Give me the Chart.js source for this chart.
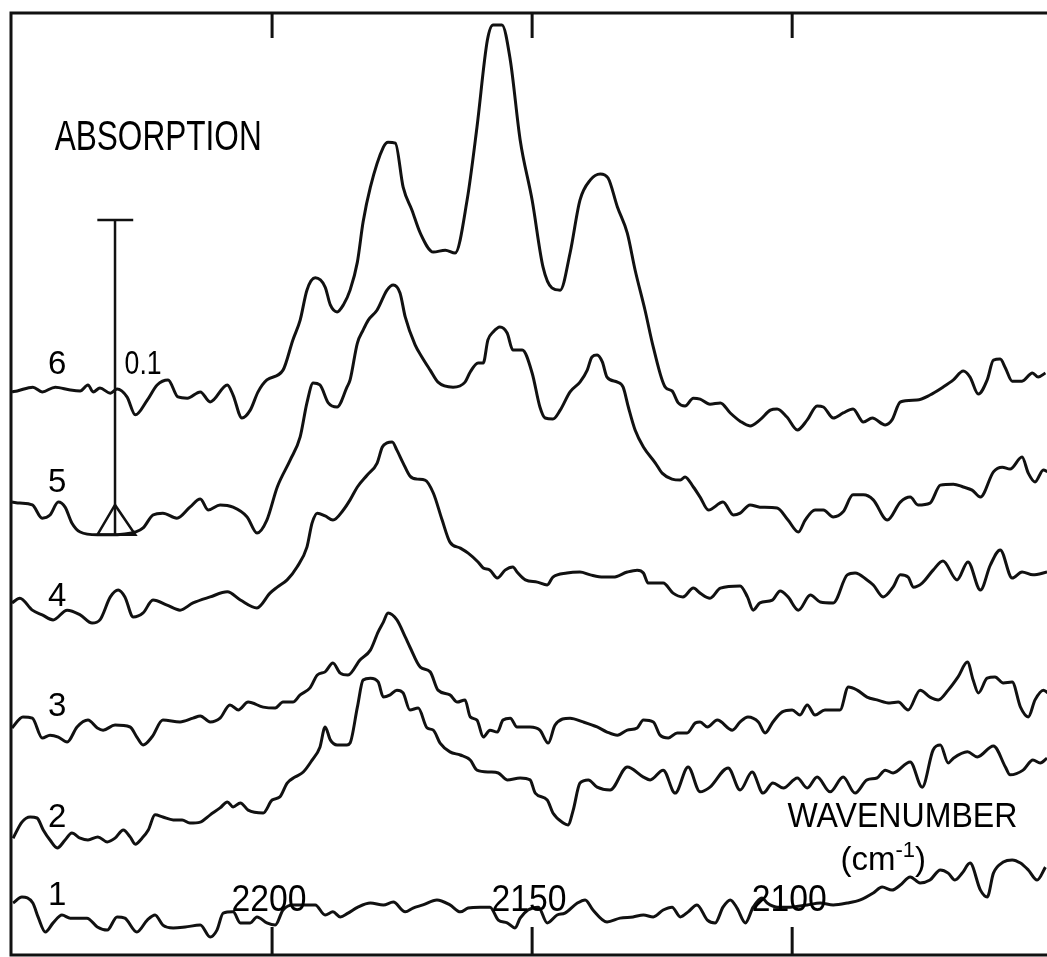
<!DOCTYPE html>
<html>
<head>
<meta charset="utf-8">
<script src="https://cdn.jsdelivr.net/npm/chart.js@4.4.1/dist/chart.umd.min.js"></script>
<style>
  html, body { margin: 0; padding: 0; background: #fff; overflow: hidden; }
  #wrap { width: 1047px; height: 957px; }
</style>
</head>
<body>
<div id="wrap"><canvas id="chart" width="1047" height="957"></canvas></div>
<script>
// [wavenumber cm-1, absorbance], one list per spectrum (1 = bottom)
const spec1 = [[2249.8,0.0165],[2248.1,0.0184],[2246.0,0.0165],[2245.0,0.0121],[2243.6,0.0073],[2242.1,0.0102],[2240.4,0.0127],[2238.8,0.0117],[2235.6,0.0117],[2233.6,0.0089],[2231.7,0.0079],[2229.8,0.0121],[2228.3,0.0117],[2226.0,0.0073],[2224.0,0.0111],[2222.5,0.0127],[2221.0,0.0095],[2219.0,0.0086],[2216.7,0.0089],[2213.8,0.0095],[2211.9,0.0057],[2210.6,0.0079],[2209.4,0.0133],[2207.5,0.0137],[2206.1,0.0102],[2204.2,0.0102],[2202.9,0.0121],[2201.0,0.0102],[2199.4,0.0095],[2197.9,0.0143],[2196.0,0.0159],[2193.3,0.0159],[2191.7,0.0159],[2189.8,0.0127],[2188.3,0.0137],[2186.9,0.0121],[2185.4,0.0133],[2183.5,0.0152],[2181.1,0.0165],[2178.6,0.0159],[2176.7,0.0168],[2174.4,0.0137],[2172.9,0.0149],[2171.0,0.0159],[2168.3,0.0175],[2165.8,0.0159],[2163.8,0.0137],[2162.3,0.0149],[2160.0,0.0152],[2158.1,0.0152],[2156.5,0.0111],[2154.8,0.0102],[2153.3,0.0086],[2152.3,0.0117],[2150.8,0.0143],[2148.8,0.0152],[2147.1,0.0102],[2145.2,0.0127],[2143.7,0.0133],[2141.3,0.0165],[2139.8,0.0175],[2138.3,0.0143],[2135.6,0.0105],[2133.1,0.0117],[2130.6,0.0121],[2128.6,0.0127],[2126.7,0.0121],[2124.8,0.0143],[2123.1,0.0152],[2121.5,0.0121],[2120.0,0.0137],[2118.3,0.0159],[2116.3,0.0111],[2114.8,0.0102],[2113.3,0.0152],[2111.9,0.0175],[2110.6,0.0149],[2109.0,0.0102],[2107.5,0.0152],[2105.8,0.0181],[2104.8,0.0165],[2102.9,0.0152],[2100.4,0.0152],[2097.1,0.0159],[2094.6,0.0165],[2092.1,0.0159],[2089.4,0.0165],[2086.9,0.0175],[2084.4,0.0197],[2082.7,0.0216],[2080.8,0.0206],[2079.2,0.0222],[2077.3,0.0248],[2075.4,0.0229],[2073.5,0.0238],[2071.5,0.0270],[2070.0,0.0260],[2068.7,0.0238],[2067.3,0.0260],[2065.8,0.0292],[2063.8,0.0206],[2062.5,0.0184],[2061.3,0.0260],[2059.4,0.0295],[2057.7,0.0302],[2056.1,0.0292],[2054.6,0.0270],[2052.9,0.0238],[2051.3,0.0279]];

const spec2 = [[2249.8,0.0371],[2248.1,0.0422],[2246.5,0.0438],[2245.2,0.0435],[2244.0,0.0397],[2242.7,0.0365],[2241.3,0.0340],[2239.8,0.0365],[2238.5,0.0387],[2236.9,0.0371],[2235.4,0.0365],[2233.5,0.0375],[2231.7,0.0359],[2230.2,0.0371],[2228.6,0.0397],[2227.3,0.0375],[2226.3,0.0352],[2225.0,0.0371],[2223.8,0.0397],[2222.5,0.0445],[2221.0,0.0438],[2219.0,0.0429],[2217.3,0.0429],[2215.8,0.0419],[2213.8,0.0422],[2211.9,0.0445],[2210.0,0.0467],[2208.6,0.0486],[2207.5,0.0470],[2206.1,0.0483],[2204.6,0.0460],[2201.7,0.0451],[2200.0,0.0492],[2198.5,0.0502],[2197.1,0.0546],[2195.6,0.0565],[2194.0,0.0581],[2192.3,0.0619],[2190.8,0.0660],[2189.8,0.0724],[2188.8,0.0683],[2187.5,0.0667],[2185.6,0.0667],[2185.0,0.0673],[2183.6,0.0787],[2182.5,0.0873],[2181.1,0.0879],[2179.6,0.0867],[2178.6,0.0819],[2177.3,0.0826],[2176.0,0.0841],[2174.8,0.0832],[2173.5,0.0778],[2171.9,0.0784],[2170.2,0.0721],[2169.0,0.0714],[2167.7,0.0673],[2165.8,0.0645],[2163.8,0.0635],[2161.9,0.0619],[2160.6,0.0587],[2158.1,0.0581],[2156.5,0.0578],[2154.8,0.0556],[2152.3,0.0562],[2150.4,0.0556],[2149.4,0.0514],[2147.1,0.0492],[2146.0,0.0451],[2144.0,0.0419],[2143.1,0.0413],[2142.1,0.0460],[2140.8,0.0546],[2139.2,0.0556],[2137.5,0.0533],[2135.0,0.0524],[2131.7,0.0597],[2128.6,0.0565],[2127.3,0.0556],[2124.8,0.0587],[2122.5,0.0514],[2120.0,0.0597],[2117.7,0.0518],[2115.8,0.0533],[2112.3,0.0594],[2110.0,0.0524],[2107.7,0.0581],[2105.6,0.0514],[2103.7,0.0546],[2101.7,0.0530],[2099.0,0.0562],[2097.1,0.0530],[2095.2,0.0565],[2092.7,0.0518],[2090.2,0.0565],[2087.9,0.0514],[2085.6,0.0556],[2083.7,0.0562],[2082.1,0.0587],[2080.6,0.0578],[2077.3,0.0613],[2075.0,0.0533],[2072.9,0.0651],[2071.5,0.0667],[2070.0,0.0610],[2069.0,0.0625],[2066.3,0.0645],[2064.4,0.0629],[2061.3,0.0664],[2059.0,0.0597],[2058.1,0.0572],[2055.6,0.0587],[2053.7,0.0619],[2052.3,0.0610],[2051.0,0.0625]];

const spec3 = [[2250.0,0.0721],[2247.9,0.0756],[2246.1,0.0752],[2244.2,0.0689],[2242.7,0.0698],[2241.1,0.0692],[2239.4,0.0676],[2237.5,0.0724],[2235.4,0.0746],[2233.6,0.0721],[2232.5,0.0714],[2230.2,0.0730],[2227.3,0.0724],[2226.0,0.0692],[2224.8,0.0667],[2223.1,0.0692],[2221.0,0.0746],[2217.7,0.0740],[2215.2,0.0752],[2213.8,0.0759],[2211.9,0.0740],[2210.0,0.0752],[2208.1,0.0794],[2206.5,0.0778],[2204.6,0.0803],[2201.7,0.0787],[2199.4,0.0784],[2197.9,0.0803],[2196.0,0.0803],[2194.6,0.0826],[2192.7,0.0848],[2191.3,0.0889],[2189.8,0.0899],[2188.3,0.0927],[2186.9,0.0895],[2185.4,0.0889],[2183.1,0.0937],[2181.1,0.0968],[2179.6,0.1026],[2178.6,0.1057],[2177.7,0.1086],[2176.0,0.1064],[2174.4,0.1010],[2173.5,0.0978],[2171.5,0.0914],[2169.6,0.0899],[2168.1,0.0841],[2165.8,0.0826],[2164.4,0.0803],[2162.9,0.0810],[2161.9,0.0756],[2160.6,0.0746],[2159.4,0.0692],[2158.1,0.0714],[2156.7,0.0708],[2155.6,0.0746],[2154.2,0.0752],[2152.9,0.0724],[2150.4,0.0724],[2148.5,0.0714],[2146.9,0.0673],[2145.6,0.0730],[2142.7,0.0752],[2140.2,0.0740],[2137.5,0.0724],[2135.6,0.0708],[2133.6,0.0698],[2131.7,0.0714],[2129.8,0.0721],[2128.6,0.0746],[2126.7,0.0740],[2125.4,0.0698],[2123.8,0.0689],[2122.1,0.0705],[2120.2,0.0705],[2118.6,0.0737],[2117.7,0.0740],[2116.3,0.0724],[2114.4,0.0746],[2111.5,0.0714],[2110.0,0.0740],[2108.5,0.0756],[2106.5,0.0740],[2105.2,0.0705],[2103.7,0.0740],[2101.9,0.0772],[2100.0,0.0778],[2098.5,0.0762],[2097.1,0.0794],[2095.6,0.0762],[2093.7,0.0778],[2090.8,0.0778],[2089.2,0.0851],[2087.5,0.0841],[2085.6,0.0819],[2083.7,0.0810],[2081.2,0.0800],[2079.6,0.0803],[2077.7,0.0778],[2075.4,0.0841],[2073.5,0.0819],[2071.9,0.0810],[2070.0,0.0841],[2068.1,0.0883],[2066.3,0.0930],[2065.2,0.0873],[2064.2,0.0832],[2062.5,0.0879],[2061.0,0.0883],[2059.4,0.0864],[2057.7,0.0867],[2056.1,0.0787],[2054.6,0.0756],[2053.3,0.0810],[2051.7,0.0841],[2050.8,0.0832]];

const spec4 = [[2250.0,0.1118],[2248.5,0.1133],[2246.1,0.1095],[2244.2,0.1080],[2242.1,0.1064],[2239.4,0.1095],[2236.9,0.1080],[2234.6,0.1054],[2233.1,0.1064],[2231.1,0.1137],[2229.6,0.1159],[2228.3,0.1137],[2226.7,0.1073],[2224.8,0.1086],[2222.9,0.1127],[2220.2,0.1111],[2217.7,0.1095],[2215.2,0.1118],[2211.9,0.1137],[2208.6,0.1153],[2206.1,0.1127],[2202.9,0.1102],[2200.4,0.1149],[2199.0,0.1168],[2197.1,0.1191],[2195.2,0.1232],[2193.3,0.1295],[2192.3,0.1372],[2191.3,0.1403],[2189.8,0.1394],[2188.3,0.1381],[2186.3,0.1413],[2185.0,0.1445],[2183.6,0.1486],[2181.7,0.1524],[2179.8,0.1562],[2178.8,0.1613],[2177.9,0.1626],[2176.9,0.1629],[2176.0,0.1603],[2174.8,0.1562],[2173.5,0.1521],[2172.1,0.1511],[2170.6,0.1508],[2169.0,0.1467],[2167.3,0.1381],[2165.8,0.1311],[2163.8,0.1292],[2162.3,0.1276],[2160.4,0.1248],[2159.4,0.1229],[2158.1,0.1222],[2156.7,0.1197],[2155.2,0.1222],[2153.7,0.1232],[2152.9,0.1216],[2151.3,0.1191],[2149.0,0.1184],[2147.1,0.1175],[2146.0,0.1200],[2143.3,0.1213],[2140.8,0.1216],[2138.8,0.1207],[2136.3,0.1200],[2134.4,0.1200],[2131.7,0.1216],[2129.8,0.1222],[2128.6,0.1213],[2127.7,0.1181],[2124.8,0.1181],[2122.9,0.1149],[2121.0,0.1137],[2119.0,0.1165],[2117.7,0.1149],[2115.8,0.1133],[2113.8,0.1165],[2110.0,0.1172],[2108.6,0.1137],[2107.5,0.1095],[2106.2,0.1118],[2103.8,0.1127],[2102.3,0.1156],[2100.8,0.1137],[2098.8,0.1095],[2096.5,0.1143],[2094.6,0.1121],[2092.1,0.1118],[2089.4,0.1207],[2087.9,0.1213],[2085.6,0.1191],[2084.4,0.1175],[2082.5,0.1137],[2080.6,0.1168],[2079.2,0.1207],[2077.7,0.1200],[2076.7,0.1168],[2075.0,0.1181],[2072.9,0.1222],[2071.0,0.1251],[2068.3,0.1191],[2066.2,0.1248],[2063.8,0.1159],[2061.9,0.1238],[2060.0,0.1286],[2057.7,0.1197],[2055.8,0.1216],[2053.7,0.1207],[2051.0,0.1216]];

const spec5 = [[2250.0,0.1438],[2248.5,0.1435],[2246.1,0.1429],[2244.2,0.1387],[2242.7,0.1397],[2241.1,0.1438],[2239.8,0.1422],[2238.5,0.1372],[2236.9,0.1343],[2233.6,0.1334],[2231.1,0.1334],[2228.3,0.1337],[2226.3,0.1343],[2224.8,0.1356],[2222.9,0.1397],[2221.0,0.1403],[2218.3,0.1387],[2215.8,0.1422],[2213.8,0.1448],[2212.3,0.1413],[2210.0,0.1429],[2207.5,0.1422],[2204.8,0.1391],[2202.9,0.1340],[2201.0,0.1381],[2199.0,0.1486],[2196.5,0.1572],[2194.6,0.1645],[2193.3,0.1753],[2192.1,0.1816],[2190.8,0.1810],[2189.2,0.1753],[2187.5,0.1740],[2185.6,0.1803],[2185.0,0.1826],[2183.6,0.1943],[2182.5,0.1984],[2181.5,0.2016],[2179.8,0.2048],[2177.9,0.2111],[2176.7,0.2127],[2175.4,0.2102],[2174.4,0.2026],[2172.5,0.1937],[2171.2,0.1899],[2169.6,0.1857],[2168.1,0.1819],[2165.2,0.1803],[2162.9,0.1819],[2161.9,0.1851],[2160.4,0.1880],[2159.4,0.1880],[2158.5,0.1953],[2157.5,0.1978],[2156.2,0.1994],[2154.8,0.1975],[2153.7,0.1921],[2151.9,0.1921],[2150.0,0.1848],[2148.5,0.1740],[2147.5,0.1705],[2146.0,0.1702],[2144.6,0.1730],[2142.7,0.1788],[2140.8,0.1819],[2139.4,0.1857],[2138.5,0.1899],[2137.5,0.1905],[2136.5,0.1883],[2135.6,0.1835],[2133.6,0.1819],[2132.5,0.1803],[2131.5,0.1740],[2130.2,0.1667],[2128.6,0.1613],[2126.3,0.1562],[2125.0,0.1530],[2123.1,0.1511],[2121.5,0.1508],[2120.6,0.1518],[2119.0,0.1486],[2117.7,0.1454],[2116.1,0.1413],[2113.3,0.1438],[2111.3,0.1397],[2110.0,0.1403],[2108.1,0.1429],[2106.2,0.1422],[2102.9,0.1419],[2100.8,0.1381],[2098.8,0.1343],[2097.5,0.1381],[2095.6,0.1413],[2094.0,0.1413],[2092.1,0.1391],[2090.2,0.1407],[2088.3,0.1461],[2086.3,0.1461],[2084.4,0.1445],[2081.7,0.1381],[2079.2,0.1438],[2077.3,0.1454],[2075.8,0.1429],[2073.5,0.1435],[2071.5,0.1492],[2069.0,0.1495],[2067.1,0.1486],[2065.4,0.1476],[2063.8,0.1454],[2061.3,0.1534],[2059.6,0.1549],[2058.1,0.1543],[2055.8,0.1581],[2054.6,0.1530],[2053.3,0.1502],[2051.7,0.1540],[2050.8,0.1534]];

const spec6 = [[2250.0,0.1788],[2249.0,0.1791],[2246.0,0.1803],[2244.2,0.1788],[2241.7,0.1803],[2238.8,0.1794],[2236.9,0.1791],[2235.4,0.1810],[2234.4,0.1788],[2233.1,0.1800],[2231.1,0.1784],[2229.8,0.1797],[2227.9,0.1772],[2226.3,0.1715],[2224.0,0.1762],[2222.1,0.1810],[2220.0,0.1826],[2218.1,0.1772],[2216.3,0.1768],[2213.8,0.1788],[2211.9,0.1756],[2208.6,0.1810],[2207.5,0.1778],[2205.8,0.1705],[2204.2,0.1730],[2202.7,0.1788],[2201.0,0.1826],[2197.9,0.1857],[2196.0,0.1953],[2194.6,0.2016],[2193.3,0.2111],[2191.7,0.2150],[2189.8,0.2121],[2188.8,0.2064],[2187.5,0.2042],[2186.3,0.2064],[2185.0,0.2111],[2183.6,0.2200],[2182.5,0.2327],[2181.1,0.2438],[2178.6,0.2565],[2177.7,0.2581],[2176.3,0.2578],[2174.8,0.2438],[2173.1,0.2365],[2171.5,0.2292],[2169.0,0.2232],[2166.7,0.2238],[2164.8,0.2229],[2162.5,0.2397],[2160.6,0.2629],[2158.6,0.2905],[2157.5,0.2953],[2155.8,0.2953],[2154.2,0.2842],[2152.3,0.2588],[2150.0,0.2397],[2147.9,0.2184],[2146.2,0.2118],[2144.6,0.2111],[2142.7,0.2229],[2140.8,0.2397],[2138.8,0.2461],[2136.9,0.2480],[2135.4,0.2467],[2133.6,0.2375],[2131.7,0.2292],[2130.2,0.2175],[2128.3,0.2048],[2126.7,0.1930],[2124.4,0.1803],[2123.1,0.1791],[2121.9,0.1753],[2120.6,0.1743],[2119.0,0.1768],[2117.7,0.1765],[2115.8,0.1749],[2113.8,0.1753],[2111.9,0.1721],[2110.0,0.1695],[2108.1,0.1680],[2106.2,0.1699],[2104.2,0.1730],[2102.9,0.1734],[2101.0,0.1708],[2099.0,0.1667],[2097.1,0.1699],[2095.2,0.1743],[2094.0,0.1740],[2092.1,0.1705],[2090.2,0.1721],[2088.3,0.1734],[2086.3,0.1692],[2084.6,0.1705],[2082.1,0.1683],[2080.8,0.1699],[2079.2,0.1756],[2076.0,0.1762],[2073.5,0.1778],[2071.0,0.1803],[2069.0,0.1826],[2067.1,0.1854],[2065.8,0.1835],[2064.2,0.1781],[2062.5,0.1826],[2061.3,0.1889],[2060.0,0.1892],[2059.0,0.1864],[2057.7,0.1822],[2055.8,0.1822],[2053.8,0.1848],[2052.7,0.1835],[2051.3,0.1848]];

const spectra = [spec1, spec2, spec3, spec4, spec5, spec6];
const traceNames = ['1', '2', '3', '4', '5', '6'];
const tickValues = [2200, 2150, 2100];

// 0.1 absorbance scale bar
const barValue = 0.1;
const barWavenumber = 2230.2;
const barBottom = 0.1334;

const ink = '#111';
const font = '"Liberation Sans", Arial, sans-serif';

const toXY = arr => arr.map(p => ({ x: p[0], y: p[1] }));

const datasets = spectra.map((s, i) => ({
    label: 'spectrum ' + traceNames[i],
    data: toXY(s),
    borderColor: ink,
    borderWidth: 3,
    pointRadius: 0,
    cubicInterpolationMode: 'monotone',
    fill: false
}));

const barStyle = { borderColor: ink, borderWidth: 2.5, pointRadius: 0, tension: 0, fill: false };
datasets.push({ ...barStyle, label: 'bar', data: [
    { x: barWavenumber, y: barBottom }, { x: barWavenumber, y: barBottom + barValue }] });
datasets.push({ ...barStyle, label: 'bar cap', data: [
    { x: barWavenumber + 3.4, y: barBottom + barValue }, { x: barWavenumber - 3.5, y: barBottom + barValue }] });
datasets.push({ ...barStyle, label: 'bar foot', data: [
    { x: barWavenumber + 3.4, y: barBottom }, { x: barWavenumber, y: barBottom + 0.0095 },
    { x: barWavenumber - 3.9, y: barBottom }, { x: barWavenumber + 3.4, y: barBottom }] });

// label placement in data units
const traceLabelX = 2241.3;
const traceLabelY = [0.0187, 0.0435, 0.0787, 0.1137, 0.1499, 0.1873];

function text(ctx, str, px, py, size, maxW) {
    ctx.font = size + 'px ' + font;
    ctx.textAlign = 'center';
    ctx.textBaseline = 'middle';
    if (maxW) ctx.fillText(str, px, py, maxW);
    else ctx.fillText(str, px, py);
}

const annotate = {
    id: 'annotate',
    afterDatasetsDraw(chart) {
        const { ctx, chartArea: a, scales: { x, y } } = chart;
        ctx.save();
        ctx.strokeStyle = ink;
        ctx.fillStyle = '#000';
        ctx.lineWidth = 3;

        // frame: top, left and bottom edges (right edge is trimmed in the original)
        ctx.beginPath();
        ctx.moveTo(a.right + 3, a.top);
        ctx.lineTo(a.left, a.top);
        ctx.lineTo(a.left, a.bottom);
        ctx.lineTo(a.right + 3, a.bottom);
        ctx.stroke();

        // inward ticks + labels near the bottom
        tickValues.forEach(v => {
            const px = x.getPixelForValue(v);
            ctx.beginPath();
            ctx.moveTo(px, a.top); ctx.lineTo(px, a.top + 25);
            ctx.moveTo(px, a.bottom); ctx.lineTo(px, a.bottom - 28);
            ctx.stroke();
            text(ctx, String(v), px - 3, a.bottom - 54, 37, 75);
        });

        // trace numbers
        traceNames.forEach((n, i) => {
            text(ctx, n, x.getPixelForValue(traceLabelX), y.getPixelForValue(traceLabelY[i]), 33);
        });

        text(ctx, String(barValue), x.getPixelForValue(2224.8), y.getPixelForValue(0.1873), 33, 37);
        text(ctx, 'ABSORPTION', x.getPixelForValue(2221.9), y.getPixelForValue(0.2594), 42, 207);
        text(ctx, 'WAVENUMBER', x.getPixelForValue(2078.8), y.getPixelForValue(0.0438), 35, 230);

        // (cm-1) with raised exponent
        const parts = [['(cm', 33, 0], ['-1', 22, -13], [')', 33, 0]];
        ctx.textAlign = 'left';
        ctx.textBaseline = 'alphabetic';
        let total = 0;
        parts.forEach(p => { ctx.font = p[1] + 'px ' + font; total += ctx.measureText(p[0]).width; });
        const sx = Math.min(1, 93 / total);
        const cx = x.getPixelForValue(2082.5);
        const base = y.getPixelForValue(0.0305) + 11;
        ctx.translate(cx - total * sx / 2, base);
        ctx.scale(sx, 1);
        let off = 0;
        parts.forEach(p => {
            ctx.font = p[1] + 'px ' + font;
            ctx.fillText(p[0], off, p[2]);
            off += ctx.measureText(p[0]).width;
        });
        ctx.restore();
    }
};

new Chart(document.getElementById('chart'), {
    type: 'line',
    data: { datasets },
    options: {
        responsive: false,
        animation: false,
        parsing: true,
        layout: { padding: { left: 11, top: 13, right: 0, bottom: 2 } },
        plugins: { legend: { display: false }, tooltip: { enabled: false } },
        scales: {
            x: { type: 'linear', reverse: true, min: 2051.0, max: 2250.2, display: false },
            y: { type: 'linear', min: 0, max: 0.2991, display: false }
        }
    },
    plugins: [annotate]
});
</script>
</body>
</html>
